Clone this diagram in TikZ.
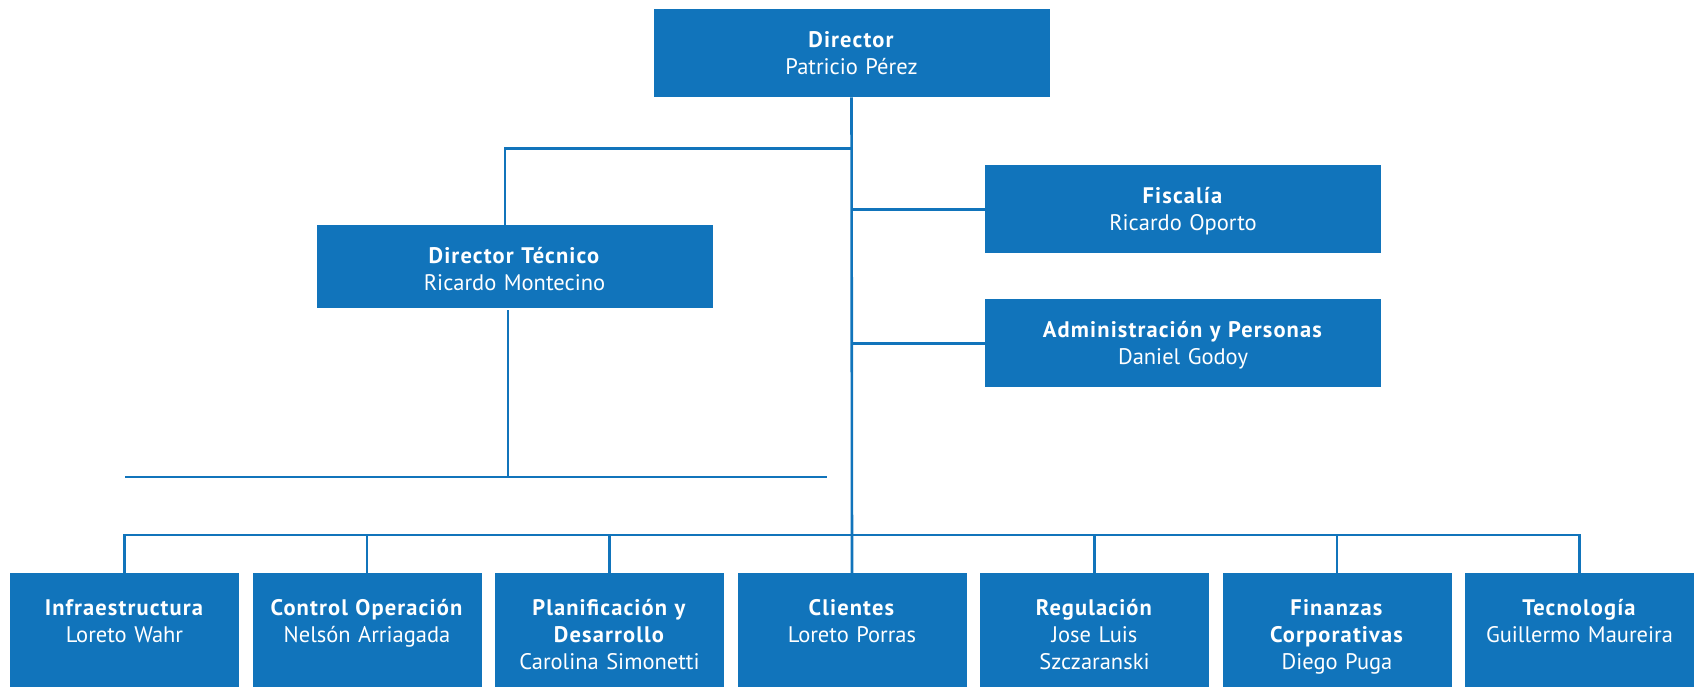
\documentclass[tikz,border=0pt]{standalone}
\usepackage{fontspec}
\setmainfont{PT Sans}[BoldFeatures={LetterSpace=5}]
\usepackage{tikz}
\definecolor{orgblue}{HTML}{1174BB}
\tikzstyle{link} = [draw=orgblue, line width=2.6pt]

\begin{document}
\begin{tikzpicture}[x=1pt, y=-1pt, node distance=242.5pt,
  box/.style = {fill=orgblue, text=white, inner sep=0pt, align=center, font=\fontsize{22.5}{27}\selectfont},
  head/.style = {box, text width=396pt, text height=38pt, text depth=50pt, anchor=north},
  unit/.style = {box, text width=229pt, text height=42pt, text depth=80pt}]
\useasboundingbox (0,0) rectangle (1697,686);
\clip (0,0) rectangle (1697,686);
\node[head] (dir) at (851.5,9) {\textbf{Director}\\Patricio Pérez};
\node[head, text depth=45pt] (dt) at (514.5,225) {\textbf{Director Técnico}\\Ricardo Montecino};
\node[head] (fis) at (1183,165) {\textbf{Fiscalía}\\Ricardo Oporto};
\node[head] (adm) at (1183,299) {\textbf{Administración y Personas}\\Daniel Godoy};

\node[unit] (inf) at (124.5,634) {\textbf{Infraestructura}\\Loreto Wahr};
\node[unit] (ctl) [right of=inf] {\textbf{Control Operación}\\Nelsón Arriagada};
\node[unit] (pla) [right of=ctl] {\textbf{Planificación y}\\\textbf{Desarrollo}\\Carolina Simonetti};
\node[unit] (cli) [right of=pla] {\textbf{Clientes}\\Loreto Porras};
\node[unit] (reg) [right of=cli] {\textbf{Regulación}\\Jose Luis\\Szczaranski};
\node[unit] (fin) [right of=reg] {\textbf{Finanzas}\\\textbf{Corporativas}\\Diego Puga};
\node[unit] (tec) [right of=fin] {\textbf{Tecnología}\\Guillermo Maureira};

\coordinate (bl) at (125,477);
\coordinate (br) at (827,477);

\draw[link] (dir.south) -- (cli.north);
\draw[link] (dir.south) ++(0,51) -| ([xshift=-9.5pt]dt.north);
\draw[link] (dir.south |- fis.west) -- (fis.west);
\draw[link] (dir.south |- adm.west) -- (adm.west);
\draw[link] ([xshift=-6.5pt]dt.south) ++(0,2) -- ([xshift=-6.5pt]dt.south |- bl);
\draw[link] (bl) -- (br);
\draw[link] (inf.north) -- ++(0,-38) -| (tec.north);
\foreach \n in {ctl,pla,reg,fin}
  \draw[link] (\n.north) -- ++(0,-38);
\end{tikzpicture}
\end{document}
